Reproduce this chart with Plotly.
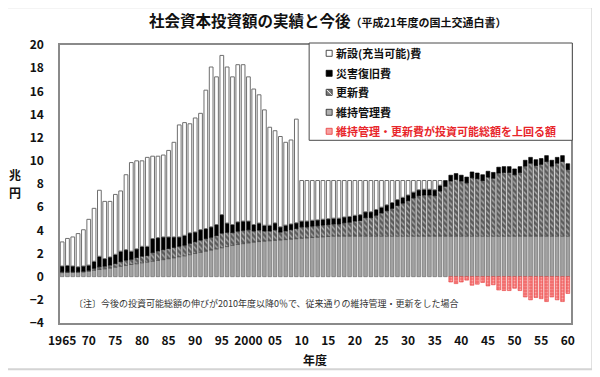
import plotly.graph_objects as go

# ---------------- data (兆円) ----------------
years = list(range(1965, 2061))

# 維持管理費 (grey, bottom)
maintenance = (
    [0.35, 0.36, 0.37, 0.38, 0.40, 0.45, 0.55, 0.62, 0.68, 0.74]      # 1965-74
    + [0.82, 0.90, 0.98, 1.05, 1.12, 1.20, 1.26, 1.33, 1.40, 1.47]    # 1975-84
    + [1.55, 1.63, 1.72, 1.80, 1.90, 2.00, 2.10, 2.20, 2.30, 2.40]    # 1985-94
    + [2.50, 2.60, 2.70, 2.78, 2.85, 2.92, 2.98, 3.03, 3.07, 3.10]    # 1995-04
    + [3.14, 3.17, 3.20, 3.24, 3.28, 3.32, 3.35, 3.38, 3.41, 3.44]    # 2005-14
    + [3.47, 3.50, 3.50, 3.50, 3.50, 3.50, 3.50, 3.50, 3.50, 3.50]    # 2015-24
    + [3.50, 3.50, 3.50, 3.50, 3.50, 3.50, 3.50, 3.50, 3.50, 3.50]    # 2025-34
    + [3.50, 3.50, 3.50, 3.50, 3.50, 3.50, 3.50, 3.50, 3.50, 3.50]    # 2035-44
    + [3.50, 3.50, 3.50, 3.50, 3.50, 3.50, 3.50, 3.50, 3.50, 3.50]    # 2045-54
    + [3.50, 3.50, 3.50, 3.50, 3.50, 3.50]                            # 2055-60
)

# 更新費 (hatched)
renewal = (
    [0.07, 0.06, 0.05, 0.05, 0.07, 0.10, 0.18, 0.24, 0.23, 0.26]
    + [0.31, 0.40, 0.45, 0.45, 0.53, 0.57, 0.56, 0.76, 0.82, 0.86]
    + [0.88, 0.90, 0.91, 0.92, 0.98, 1.01, 1.06, 1.10, 1.10, 1.15]
    + [1.26, 1.23, 1.10, 1.15, 1.15, 1.13, 0.97, 1.00, 0.87, 0.84]
    + [0.90, 0.68, 0.75, 0.81, 0.87, 0.98, 0.95, 0.99, 0.99, 1.02]
    + [1.03, 1.05, 1.05, 1.15, 1.20, 1.30, 1.35, 1.60, 1.60, 1.80]
    + [2.00, 2.20, 2.40, 2.65, 2.85, 3.05, 3.30, 3.50, 3.55, 3.55]
    + [3.50, 3.90, 4.30, 4.76, 4.90, 4.76, 4.60, 5.04, 4.95, 4.80]
    + [5.10, 5.00, 5.45, 5.50, 5.50, 5.30, 5.50, 6.05, 6.30, 6.10]
    + [6.20, 6.45, 6.05, 6.30, 6.45, 5.75]
)

# 災害復旧費 (black)
disaster = (
    [0.50, 0.55, 0.50, 0.42, 0.45, 0.45, 0.60, 0.90, 0.65, 0.70]
    + [0.80, 0.90, 0.90, 0.70, 0.75, 0.85, 0.80, 1.20, 1.15, 1.10]
    + [1.00, 0.90, 0.80, 0.85, 0.90, 0.85, 0.90, 0.85, 0.90, 0.95]
    + [1.60, 0.80, 0.70, 0.80, 0.80, 0.75, 0.55, 0.60, 0.50, 0.50]
    + [0.60, 0.45, 0.50, 0.50, 0.50, 0.50, 0.50, 0.50, 0.50, 0.50]
    + [0.50, 0.50, 0.50, 0.50, 0.50, 0.50, 0.50, 0.50, 0.50, 0.50]
    + [0.50, 0.50, 0.50, 0.50, 0.50, 0.50, 0.50, 0.50, 0.50, 0.50]
    + [0.50, 0.50, 0.50, 0.50, 0.50, 0.50, 0.50, 0.50, 0.50, 0.50]
    + [0.50, 0.50, 0.50, 0.50, 0.50, 0.50, 0.50, 0.50, 0.50, 0.50]
    + [0.50, 0.50, 0.50, 0.50, 0.50, 0.50]
)

# 新設（充当可能）費 (white, top)
new_build = (
    [2.08, 2.33, 2.51, 2.87, 3.13, 3.95, 4.57, 5.70, 4.94, 4.80]
    + [5.17, 5.20, 6.47, 7.65, 7.60, 7.38, 7.68, 7.11, 7.03, 7.07]
    + [7.47, 8.17, 9.67, 9.73, 9.42, 9.84, 10.04, 11.95, 13.80, 12.75]
    + [13.74, 13.47, 12.75, 13.57, 13.50, 12.45, 11.70, 11.07, 9.96, 8.46]
    + [7.96, 7.80, 7.15, 7.25, 8.95, 3.50, 3.50, 3.43, 3.40, 3.34]
    + [3.30, 3.25, 3.25, 3.15, 3.10, 3.00, 2.95, 2.70, 2.70, 2.50]
    + [2.30, 2.10, 1.90, 1.65, 1.45, 1.25, 1.00, 0.80, 0.75, 0.75]
    + [0.80, 0.40, None, None, None, None, None, None, None, None]
    + [None, None, None, None, None, None, None, None, None, None]
    + [None, None, None, None, None, None]
)

# 維持管理・更新費が投資可能総額を上回る額 (red, negative)
excess = (
    [None] * 10 + [None] * 10 + [None] * 10 + [None] * 10 + [None] * 10
    + [None] * 10 + [None] * 10
    + [None, None, None, -0.46, -0.60, -0.46, -0.30, -0.74, -0.65, -0.50]
    + [-0.80, -0.70, -1.15, -1.20, -1.20, -1.00, -1.20, -1.75, -2.00, -1.80]
    + [-1.90, -2.15, -1.75, -2.00, -2.15, -1.45]
)

tick_years = [1965, 1970, 1975, 1980, 1985, 1990, 1995, 2000, 2005, 2010,
              2015, 2020, 2025, 2030, 2035, 2040, 2045, 2050, 2055, 2060]
tick_labels = ["1965", "70", "75", "80", "85", "90", "95", "2000", "05", "10",
               "15", "20", "25", "30", "35", "40", "45", "50", "55", "60"]

legend_names = ["新設(充当可能)費", "災害復旧費", "更新費", "維持管理費",
                "維持管理・更新費が投資可能総額を上回る額"]

# ---------------- layout helpers ----------------
# the page body has an 8px default margin, so the figure is shrunk by that much
OFF = 8
VW, VH = 600, 377
W, H = VW - OFF, VH - OFF
# plot-area edges in window pixels
PL, PR, PT, PB = 60.0, 570.7, 44.7, 322.7
FONT = "Noto Sans CJK JP, Noto Sans, sans-serif"


def xp(px):
    return (px - PL) / (PR - PL)


def yp(py):
    return (PB - py) / (PB - PT)


fig = go.Figure()
fig.add_trace(go.Bar(
    x=years, y=maintenance, name=legend_names[3], showlegend=False,
    marker=dict(color="#a2a2a2", line=dict(color="#5e5e5e", width=0.6))))
fig.add_trace(go.Bar(
    x=years, y=renewal, name=legend_names[2], showlegend=False,
    marker=dict(color="#5c5c5c", line=dict(color="#3c3c3c", width=0.6),
                pattern=dict(shape="\\", fgcolor="#ffffff", bgcolor="#5c5c5c",
                             size=4, solidity=0.35))))
fig.add_trace(go.Bar(
    x=years, y=disaster, name=legend_names[1], showlegend=False,
    marker=dict(color="#000000", line=dict(color="#000000", width=0.6))))
fig.add_trace(go.Bar(
    x=years, y=new_build, name=legend_names[0], showlegend=False,
    marker=dict(color="#ffffff", line=dict(color="#6e6e6e", width=1))))
fig.add_trace(go.Bar(
    x=years, y=excess, name=legend_names[4], showlegend=False,
    marker=dict(color="#f26b6b", line=dict(color="#e84040", width=0.6),
                pattern=dict(shape=".", fgcolor="#ffe4e4", bgcolor="#f26b6b",
                             size=3, solidity=0.35))))

axis_common = dict(showline=True, mirror=True, linecolor="#8a8a8a", linewidth=1.5,
                   showgrid=False, zeroline=False, ticks="outside",
                   tickcolor="rgba(0,0,0,0)",
                   tickfont=dict(family=FONT, size=12, color="#111111", weight="bold"))

fig.update_layout(
    width=W, height=H,
    margin=dict(l=PL - OFF, r=VW - PR, t=PT - OFF, b=VH - PB, pad=0, autoexpand=False),
    barmode="relative", bargap=0.3,
    plot_bgcolor="#ffffff", paper_bgcolor="#ffffff",
    font=dict(family=FONT, color="#111111"),
    showlegend=False,
    xaxis=dict(range=[1964.6, 2060.6], tickmode="array", tickvals=tick_years,
               ticktext=tick_labels, ticklen=6, **axis_common),
    yaxis=dict(range=[-4, 20], tickmode="linear", tick0=0, dtick=2, ticklen=12,
               **axis_common),
)

shapes = []
annotations = []

# outer light frame
shapes.append(dict(type="rect", xref="paper", yref="paper",
                   x0=xp(3 + OFF / 2), x1=xp(592), y0=yp(369), y1=yp(3 + OFF / 2),
                   line=dict(color="#d4d4d4", width=2), fillcolor="rgba(0,0,0,0)"))

# legend box
shapes.append(dict(type="rect", xref="paper", yref="paper",
                   x0=xp(309), x1=xp(572), y0=yp(140), y1=yp(42.7),
                   line=dict(color="#4a4a4a", width=1), fillcolor="#ffffff"))

rows = [53, 73, 92, 112, 131]
icon_styles = [
    dict(fillcolor="#ffffff", line=dict(color="#222222", width=0.8)),
    dict(fillcolor="#000000", line=dict(color="#000000", width=0.8)),
    dict(fillcolor="#7a7a7a", line=dict(color="#222222", width=0.8)),
    dict(fillcolor="#b0b0b0", line=dict(color="#222222", width=0.8)),
    dict(fillcolor="#f6a0a0", line=dict(color="#e83a3a", width=0.8)),
]
text_colors = ["#111111", "#111111", "#111111", "#111111", "#e8262b"]
for i, ry in enumerate(rows):
    shapes.append(dict(type="rect", xref="paper", yref="paper",
                       x0=xp(326), x1=xp(332), y0=yp(ry + 3), y1=yp(ry - 3),
                       **icon_styles[i]))
    annotations.append(dict(xref="paper", yref="paper", x=xp(334), y=yp(ry),
                            xanchor="left", yanchor="middle", showarrow=False,
                            text="<b>" + legend_names[i] + "</b>",
                            font=dict(family=FONT, size=11, color=text_colors[i])))
# diagonal stroke in the hatched icon
shapes.append(dict(type="line", xref="paper", yref="paper",
                   x0=xp(326.5), x1=xp(331.5), y0=yp(rows[2] - 2.5), y1=yp(rows[2] + 2.5),
                   line=dict(color="#ffffff", width=1)))

# title
annotations.append(dict(
    xref="paper", yref="paper", x=xp(147), y=yp(20), xanchor="left", yanchor="middle",
    showarrow=False,
    text="<b>社会資本投資額の実績と今後</b><b><span style='font-size:11px'>（平成21年度の国土交通白書）</span></b>",
    font=dict(family=FONT, size=15.5, color="#111111")))

# y-axis unit, written vertically as two stacked characters
for ch, cy in (("兆", 174), ("円", 192)):
    annotations.append(dict(xref="paper", yref="paper", x=xp(15), y=yp(cy),
                            xanchor="center", yanchor="middle", showarrow=False,
                            text="<b>" + ch + "</b>",
                            font=dict(family=FONT, size=12, color="#111111")))

# x-axis title
annotations.append(dict(xref="paper", yref="paper", x=xp(315), y=yp(359),
                        xanchor="center", yanchor="middle", showarrow=False,
                        text="<b>年度</b>",
                        font=dict(family=FONT, size=12, color="#111111")))

# note
annotations.append(dict(xref="paper", yref="paper", x=xp(72), y=yp(303),
                        xanchor="left", yanchor="middle", showarrow=False,
                        text="〔注〕今後の投資可能総額の伸びが2010年度以降0％で、従来通りの維持管理・更新をした場合",
                        font=dict(family=FONT, size=9, color="#333333")))

fig.update_layout(shapes=shapes, annotations=annotations)

fig.write_html("out.html")
